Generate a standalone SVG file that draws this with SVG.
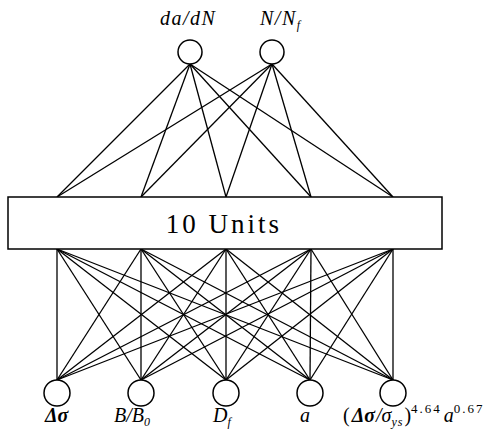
<svg xmlns="http://www.w3.org/2000/svg" width="490" height="444" viewBox="0 0 490 444">
<style>
.n{fill:#fff;stroke:#000;stroke-width:1.5}
.c line{stroke:#000;stroke-width:1.3}
.lb{font-family:"Liberation Serif",serif;font-style:italic;font-size:20px;fill:#000}
.up{font-style:normal}
.sb{font-size:12px}
.sp{font-size:13px;font-style:normal}
.bx{fill:#fff;stroke:#000;stroke-width:1.5}
.bt{font-family:"Liberation Serif",serif;font-size:27px;letter-spacing:3px;fill:#000}
</style>
<rect width="490" height="444" fill="#fff"/>
<g class="c" id="connectors">
<line x1="190" y1="64" x2="57" y2="197"/><line x1="190" y1="64" x2="141" y2="197"/><line x1="190" y1="64" x2="226" y2="197"/><line x1="190" y1="64" x2="311" y2="197"/><line x1="190" y1="64" x2="393" y2="197"/>
<line x1="272" y1="64" x2="57" y2="197"/><line x1="272" y1="64" x2="141" y2="197"/><line x1="272" y1="64" x2="226" y2="197"/><line x1="272" y1="64" x2="311" y2="197"/><line x1="272" y1="64" x2="393" y2="197"/>
<line x1="57" y1="249" x2="57" y2="380"/><line x1="57" y1="249" x2="141" y2="380"/><line x1="57" y1="249" x2="226" y2="380"/><line x1="57" y1="249" x2="310" y2="380"/><line x1="57" y1="249" x2="393" y2="380"/>
<line x1="141" y1="249" x2="57" y2="380"/><line x1="141" y1="249" x2="141" y2="380"/><line x1="141" y1="249" x2="226" y2="380"/><line x1="141" y1="249" x2="310" y2="380"/><line x1="141" y1="249" x2="393" y2="380"/>
<line x1="226" y1="249" x2="57" y2="380"/><line x1="226" y1="249" x2="141" y2="380"/><line x1="226" y1="249" x2="226" y2="380"/><line x1="226" y1="249" x2="310" y2="380"/><line x1="226" y1="249" x2="393" y2="380"/>
<line x1="311" y1="249" x2="57" y2="380"/><line x1="311" y1="249" x2="141" y2="380"/><line x1="311" y1="249" x2="226" y2="380"/><line x1="311" y1="249" x2="310" y2="380"/><line x1="311" y1="249" x2="393" y2="380"/>
<line x1="393" y1="249" x2="57" y2="380"/><line x1="393" y1="249" x2="141" y2="380"/><line x1="393" y1="249" x2="226" y2="380"/><line x1="393" y1="249" x2="310" y2="380"/><line x1="393" y1="249" x2="393" y2="380"/>
</g>
<g id="out-dadN">
<circle class="n" cx="190" cy="52" r="12"/>
<text class="lb" x="160" y="25" letter-spacing="1.5">da/dN</text>
</g>
<g id="out-NNf">
<circle class="n" cx="272" cy="52" r="12"/>
<text class="lb" x="260" y="25" letter-spacing="1.5">N/N<tspan class="sb" dy="4">f</tspan></text>
</g>
<g id="hidden">
<rect class="bx" x="8" y="197" width="434" height="52"/>
<text class="bt" x="224" y="233" text-anchor="middle">10 Units</text>
</g>
<g id="in-dsigma">
<circle class="n" cx="57" cy="393" r="13"/>
<text class="lb" x="45" y="422" font-weight="bold">Δσ</text>
</g>
<g id="in-BB0">
<circle class="n" cx="141" cy="393" r="13"/>
<text class="lb" x="114" y="422">B/B<tspan class="sb" dy="4">0</tspan></text>
</g>
<g id="in-Df">
<circle class="n" cx="226" cy="393" r="13"/>
<text class="lb" x="213" y="422">D<tspan class="sb" dy="4">f</tspan></text>
</g>
<g id="in-a">
<circle class="n" cx="310" cy="393" r="13"/>
<text class="lb" x="300" y="422">a</text>
</g>
<g id="in-combo">
<circle class="n" cx="393" cy="393" r="13"/>
<text class="lb" x="343" y="422"><tspan class="up">(</tspan><tspan font-weight="bold" dx="2">Δσ</tspan><tspan dx="1">/σ</tspan><tspan class="sb" dy="4" letter-spacing="1">ys</tspan><tspan class="up" dy="-4" dx="1">)</tspan><tspan class="sp" dy="-9" letter-spacing="2">4.64</tspan><tspan dy="9" dx="2">a</tspan><tspan class="sp" dy="-9" letter-spacing="2">0.67</tspan></text>
</g>
</svg>
